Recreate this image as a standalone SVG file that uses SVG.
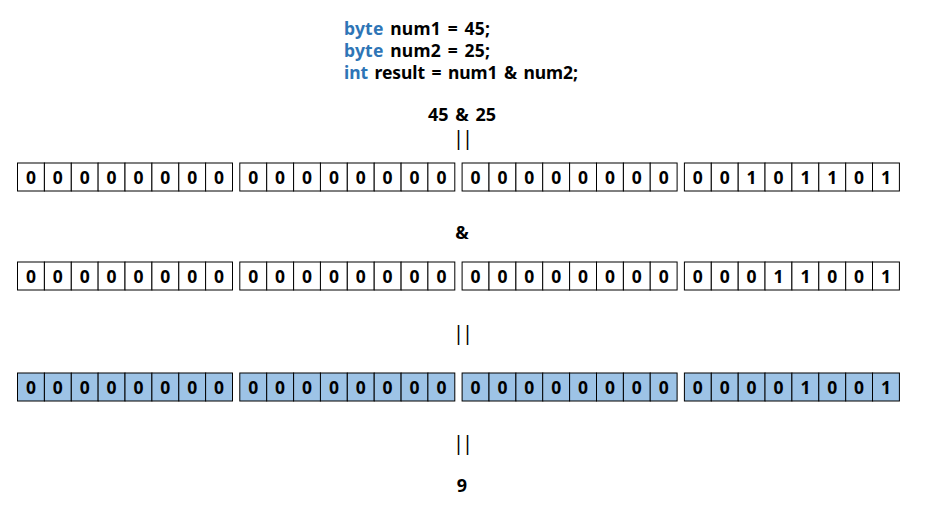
<svg xmlns="http://www.w3.org/2000/svg" width="926" height="507" viewBox="0 0 926 507">
<style>
text{font-family:"Noto Sans","Noto Sans CJK KR","Liberation Sans",sans-serif;font-weight:bold;fill:#000}
.code{font-size:17.5px;word-spacing:2px}
.kw{fill:#2E75B6}
.mid{font-size:18px;text-anchor:middle;word-spacing:2px}
.bar{font-size:20px;text-anchor:middle;letter-spacing:-2px;font-weight:normal}
.c{fill:#fff;stroke:#000;stroke-width:1}
.h{fill:#9DC3E6;stroke:#000;stroke-width:1}
.d{font-size:17.5px;text-anchor:middle}
</style>
<defs>
<g id="byteW"><rect class="c" x="0" y="0" width="26.9" height="28"/><rect class="c" x="26.9" y="0" width="26.9" height="28"/><rect class="c" x="53.8" y="0" width="26.9" height="28"/><rect class="c" x="80.6" y="0" width="26.9" height="28"/><rect class="c" x="107.5" y="0" width="26.9" height="28"/><rect class="c" x="134.4" y="0" width="26.9" height="28"/><rect class="c" x="161.3" y="0" width="26.9" height="28"/><rect class="c" x="188.1" y="0" width="26.9" height="28"/></g>
<g id="byteB"><rect class="h" x="0" y="0" width="26.9" height="28"/><rect class="h" x="26.9" y="0" width="26.9" height="28"/><rect class="h" x="53.8" y="0" width="26.9" height="28"/><rect class="h" x="80.6" y="0" width="26.9" height="28"/><rect class="h" x="107.5" y="0" width="26.9" height="28"/><rect class="h" x="134.4" y="0" width="26.9" height="28"/><rect class="h" x="161.3" y="0" width="26.9" height="28"/><rect class="h" x="188.1" y="0" width="26.9" height="28"/></g>
<g id="zeros"><text class="d" x="13.4" y="0">0</text><text class="d" x="40.3" y="0">0</text><text class="d" x="67.2" y="0">0</text><text class="d" x="94.1" y="0">0</text><text class="d" x="121" y="0">0</text><text class="d" x="147.8" y="0">0</text><text class="d" x="174.7" y="0">0</text><text class="d" x="201.6" y="0">0</text></g>
</defs>

<g id="code">
<text class="code" x="344" y="35" textLength="146" lengthAdjust="spacing"><tspan class="kw">byte</tspan> num1 = 45;</text>
<text class="code" x="344" y="57" textLength="146" lengthAdjust="spacing"><tspan class="kw">byte</tspan> num2 = 25;</text>
<text class="code" x="344" y="79" textLength="234" lengthAdjust="spacing"><tspan class="kw">int</tspan> result = num1 &amp; num2;</text>
</g>

<g id="expr"><text class="mid" x="462" y="121">45 &amp; 25</text></g>
<g id="eq1"><text class="bar" x="462" y="145">||</text></g>

<g id="row1" transform="translate(17.5,163)">
<use href="#byteW" x="0"/><use href="#byteW" x="222.3"/><use href="#byteW" x="444.6"/><use href="#byteW" x="666.9"/>
<g transform="translate(0,20.5)"><use href="#zeros" x="0"/><use href="#zeros" x="222.3"/><use href="#zeros" x="444.6"/>
<g transform="translate(666.9,0)"><text class="d" x="13.4">0</text><text class="d" x="40.3">0</text><text class="d" x="67.2">1</text><text class="d" x="94.1">0</text><text class="d" x="121">1</text><text class="d" x="147.8">1</text><text class="d" x="174.7">0</text><text class="d" x="201.6">1</text></g></g>
</g>

<g id="op"><text class="mid" x="462" y="239">&amp;</text></g>

<g id="row2" transform="translate(17.5,262)">
<use href="#byteW" x="0"/><use href="#byteW" x="222.3"/><use href="#byteW" x="444.6"/><use href="#byteW" x="666.9"/>
<g transform="translate(0,20.5)"><use href="#zeros" x="0"/><use href="#zeros" x="222.3"/><use href="#zeros" x="444.6"/>
<g transform="translate(666.9,0)"><text class="d" x="13.4">0</text><text class="d" x="40.3">0</text><text class="d" x="67.2">0</text><text class="d" x="94.1">1</text><text class="d" x="121">1</text><text class="d" x="147.8">0</text><text class="d" x="174.7">0</text><text class="d" x="201.6">1</text></g></g>
</g>

<g id="eq2"><text class="bar" x="462" y="340">||</text></g>

<g id="row3" transform="translate(17.5,373)">
<use href="#byteB" x="0"/><use href="#byteB" x="222.3"/><use href="#byteB" x="444.6"/><use href="#byteB" x="666.9"/>
<g transform="translate(0,20.5)"><use href="#zeros" x="0"/><use href="#zeros" x="222.3"/><use href="#zeros" x="444.6"/>
<g transform="translate(666.9,0)"><text class="d" x="13.4">0</text><text class="d" x="40.3">0</text><text class="d" x="67.2">0</text><text class="d" x="94.1">0</text><text class="d" x="121">1</text><text class="d" x="147.8">0</text><text class="d" x="174.7">0</text><text class="d" x="201.6">1</text></g></g>
</g>

<g id="eq3"><text class="bar" x="462" y="450">||</text></g>
<g id="res"><text class="mid" x="462" y="492">9</text></g>
</svg>
